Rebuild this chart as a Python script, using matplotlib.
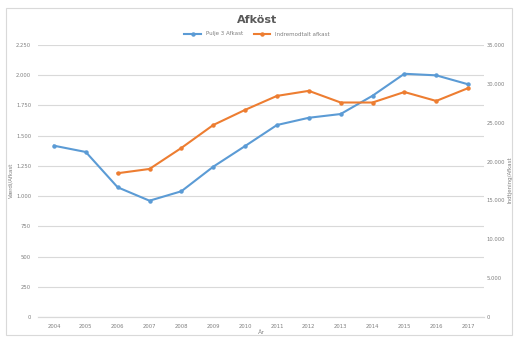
import matplotlib
matplotlib.use("Agg")
import matplotlib.pyplot as plt
from matplotlib.ticker import FuncFormatter
from matplotlib.patches import Rectangle

years = ["2004", "2005", "2006", "2007", "2008", "2009", "2010", "2011",
         "2012", "2013", "2014", "2015", "2016", "2017"]
blue_values = [1417, 1365, 1073, 962, 1040, 1243, 1414, 1588, 1648, 1679,
               1830, 2012, 1999, 1925]
orange_years = years[2:]
orange_values = [18500, 19050, 21750, 24700, 26650, 28450, 29100, 27600,
                 27600, 28950, 27800, 29450]
blue_label = "Pulje 3 Afkast"
orange_label = "Indremodtalt afkast"
left_ticks = list(range(0, 2251, 250))
right_ticks = list(range(0, 35001, 5000))

BLUE = "#5B9BD5"
ORANGE = "#ED7D31"
TXT = "#7F7F7F"
GRID = "#D9D9D9"

def dk(v, pos=None):
    return f"{int(v):,}".replace(",", ".")

fig = plt.figure(figsize=(5.14, 3.38), dpi=100)
fig.patches.append(Rectangle((0.012, 0.01), 0.985, 0.965, transform=fig.transFigure,
                             fill=False, edgecolor="#D9D9D9", linewidth=0.8))
ax = fig.add_axes([38/514, 1-317/338, (484-38)/514, (317-45)/338])
ax2 = ax.twinx()

x = list(range(len(years)))
xo = [years.index(y) for y in orange_years]
l1, = ax.plot(x, blue_values, color=BLUE, marker="o", markersize=2.2, linewidth=1.5,
              label=blue_label, zorder=3)
l2, = ax2.plot(xo, orange_values, color=ORANGE, marker="o", markersize=2.2, linewidth=1.5,
               label=orange_label, zorder=3)

ax.set_xlim(-0.5, len(years) - 0.5)
ax.set_ylim(0, 2250)
ax2.set_ylim(0, 35000)
ax.set_yticks(left_ticks)
ax2.set_yticks(right_ticks)
ax.yaxis.set_major_formatter(FuncFormatter(dk))
ax2.yaxis.set_major_formatter(FuncFormatter(dk))
ax.set_xticks(x)
ax.set_xticklabels(years)
ax.grid(axis="y", color=GRID, linewidth=0.8)
ax.set_axisbelow(True)

for a in (ax, ax2):
    for s in ["top", "left", "right"]:
        a.spines[s].set_visible(False)
    a.spines["bottom"].set_color(GRID)
    a.tick_params(length=0, labelsize=3.8, colors=TXT, pad=5)
ax2.tick_params(axis="y", pad=2)

ax.set_xlabel("År", fontsize=4.5, color=TXT, labelpad=1)
fig.text(11/514, 1-180/338, "Værdi/Afkast", rotation=90, ha="center", va="center",
         fontsize=4, color=TXT)
fig.text(510/514, 1-180/338, "Indtjening/Afkast", rotation=90, ha="center", va="center",
         fontsize=4, color=TXT)

fig.text(0.5, 1-20/338, "Afköst", ha="center", va="center", fontsize=8,
         fontweight="bold", color="#595959")
fig.legend(handles=[l1, l2], loc="center", bbox_to_anchor=(0.5, 1-34/338), ncol=2,
           frameon=False, fontsize=4, labelcolor=TXT, handlelength=3, columnspacing=2)

fig.savefig("out.png", dpi=100)
